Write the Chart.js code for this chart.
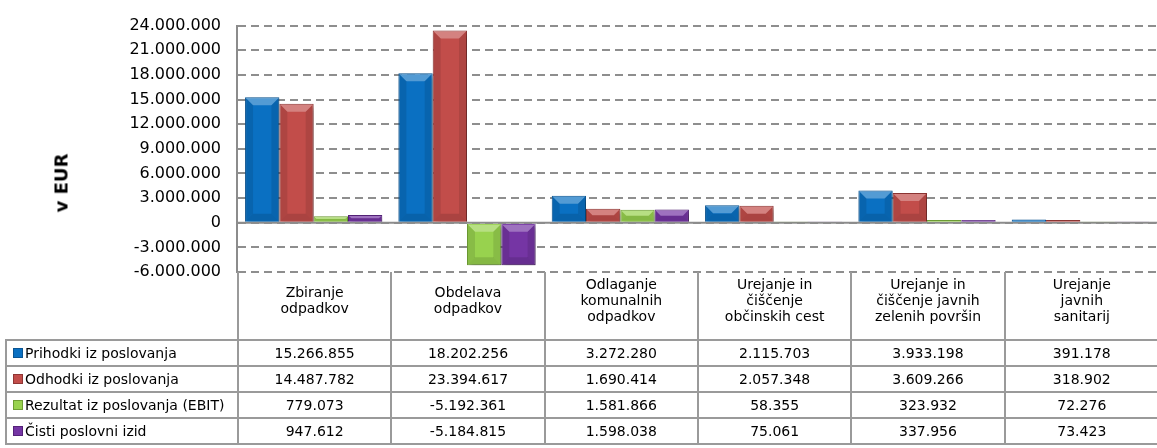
<!DOCTYPE html>
<html><head><meta charset="utf-8">
<script src="https://cdn.jsdelivr.net/npm/chart.js@4.4.0/dist/chart.umd.min.js"></script>
<style>
html,body{margin:0;padding:0;background:#fff;}
#wrap{position:relative;width:1157px;height:448px;overflow:hidden;font-family:'DejaVu Sans',sans-serif;}
#chartBox{position:absolute;left:0;top:0;width:1157px;height:448px;}
#ytitle{position:absolute;left:61px;top:183px;transform:translate(-50%,-50%) rotate(-90deg);font-weight:bold;font-size:18px;white-space:nowrap;color:#000;}
#tbl{position:absolute;border-collapse:collapse;table-layout:fixed;font-size:14px;color:#000;border:none;}
#tbl td{border:2px solid #9a9a9a;text-align:center;padding:0;white-space:nowrap;overflow:hidden;}
#tbl tr.hdr td{border-top:none;vertical-align:middle;line-height:16px;padding-bottom:12px;}
#tbl tr.hdr td.blank{border-left:none;}
#tbl td.lab{text-align:left;padding-left:6px;}
#tbl tr.row td{height:24px;}
#tbl td.last{border-right:none;}
.sw{display:inline-block;width:8px;height:8px;margin-right:2px;vertical-align:0px;border:1px solid;}
</style>
</head><body>
<div id="wrap">
  <div id="chartBox"><canvas id="c"></canvas></div>
  <div id="ytitle">v EUR</div>
  <table id="tbl"></table>
</div>
<script>
// ---- data ----
const categories = [
  ["Zbiranje", "odpadkov"],
  ["Obdelava", "odpadkov"],
  ["Odlaganje", "komunalnih", "odpadkov"],
  ["Urejanje in", "čiščenje", "občinskih cest"],
  ["Urejanje in", "čiščenje javnih", "zelenih površin"],
  ["Urejanje", "javnih", "sanitarij"]
];
const seriesNames = ["Prihodki iz poslovanja", "Odhodki iz poslovanja", "Rezultat iz poslovanja (EBIT)", "Čisti poslovni izid"];
const prihodki = [15266855, 18202256, 3272280, 2115703, 3933198, 391178];
const odhodki  = [14487782, 23394617, 1690414, 2057348, 3609266, 318902];
const ebit     = [779073, -5192361, 1581866, 58355, 323932, 72276];
const cisti    = [947612, -5184815, 1598038, 75061, 337956, 73423];
const yMin = -6000000, yMax = 24000000, yStep = 3000000;

const fills   = ['#0A70C2', '#C24D4A', '#98D24E', '#7535A4'];
const borders = ['#0B5593', '#8F3634', '#6E9E34', '#552279'];
const seriesValues = [prihodki, odhodki, ebit, cisti];

function fmt(v){
  const s = Math.abs(Math.round(v)).toString().replace(/\B(?=(\d{3})+(?!\d))/g, '.');
  return (v < 0 ? '-' : '') + s;
}

Chart.defaults.font.family = "'DejaVu Sans', sans-serif";
Chart.defaults.color = '#000';

const shadowPlugin = {
  id: 'shadow',
  beforeDatasetsDraw(chart){
    const ctx = chart.ctx;
    ctx.save();
    ctx.shadowColor = 'rgba(0,0,0,0.35)';
    ctx.shadowBlur = 5;
    ctx.shadowOffsetX = 2;
    ctx.shadowOffsetY = 3;
  },
  afterDatasetsDraw(chart){
    const ctx = chart.ctx;
    ctx.restore();
    // bevel shading
    chart.data.datasets.forEach((ds, di) => {
      const meta = chart.getDatasetMeta(di);
      meta.data.forEach(bar => {
        const p = bar.getProps(['x','y','base','width'], true);
        const l = p.x - p.width/2 + 1, r = p.x + p.width/2 - 1;
        const t = Math.min(p.y, p.base) + 1, b = Math.max(p.y, p.base) - 1;
        const h = b - t;
        if (h < 3) return;
        const e = Math.min(7, h/2);
        ctx.save();
        ctx.fillStyle = 'rgba(255,255,255,0.30)';
        ctx.beginPath(); ctx.moveTo(l,t); ctx.lineTo(r,t); ctx.lineTo(r-e,t+e); ctx.lineTo(l+e,t+e); ctx.closePath(); ctx.fill();
        ctx.fillStyle = 'rgba(0,0,0,0.10)';
        ctx.beginPath(); ctx.moveTo(l,t); ctx.lineTo(l+e,t+e); ctx.lineTo(l+e,b-e); ctx.lineTo(l,b); ctx.closePath(); ctx.fill();
        ctx.beginPath(); ctx.moveTo(r,t); ctx.lineTo(r-e,t+e); ctx.lineTo(r-e,b-e); ctx.lineTo(r,b); ctx.closePath(); ctx.fill();
        ctx.fillStyle = 'rgba(0,0,0,0.12)';
        ctx.beginPath(); ctx.moveTo(l,b); ctx.lineTo(r,b); ctx.lineTo(r-e,b-e); ctx.lineTo(l+e,b-e); ctx.closePath(); ctx.fill();
        ctx.restore();
      });
    });
  }
};

const zeroLinePlugin = {
  id: 'zeroLine',
  beforeDatasetsDraw(chart){
    const y = chart.scales.y.getPixelForValue(0);
    const a = chart.chartArea;
    const ctx = chart.ctx;
    ctx.save();
    ctx.strokeStyle = '#8c8c8c';
    ctx.lineWidth = 2;
    ctx.beginPath(); ctx.moveTo(a.left, y); ctx.lineTo(a.right, y); ctx.stroke();
    ctx.restore();
  }
};

const chart = new Chart(document.getElementById('c'), {
  type: 'bar',
  data: {
    labels: categories,
    datasets: seriesNames.map((n, i) => ({
      label: n,
      data: seriesValues[i],
      backgroundColor: fills[i],
      borderColor: borders[i],
      borderWidth: 1,
      categoryPercentage: 0.895,
      barPercentage: 1.0
    }))
  },
  options: {
    responsive: true,
    maintainAspectRatio: false,
    animation: false,
    layout: { padding: { top: 22, right: 0, bottom: 176, left: 0 } },
    plugins: { legend: { display: false }, tooltip: { enabled: false } },
    scales: {
      x: { display: false },
      y: {
        min: yMin, max: yMax,
        afterFit(scale){ scale.width = 237; },
        ticks: { stepSize: yStep, padding: 16, font: { size: 16 }, color: '#000', callback: v => fmt(v) },
        grid: { color: '#8e8e8e', lineWidth: 2, drawTicks: false },
        border: { display: true, color: '#8c8c8c', width: 2, dash: [8, 5] }
      }
    }
  },
  plugins: [zeroLinePlugin, shadowPlugin]
});

// ---- data table aligned with the chart area ----
(function buildTable(){
  const a = chart.chartArea;
  const tbl = document.getElementById('tbl');
  const left = 5;
  const colW = (a.right - a.left) / categories.length;
  tbl.style.left = left + 'px';
  tbl.style.top = (a.bottom) + 'px';
  tbl.style.width = (a.right - left) + 'px';
  let html = '<colgroup><col style="width:' + (a.left - left) + 'px">';
  categories.forEach(() => { html += '<col style="width:' + colW + 'px">'; });
  html += '</colgroup>';
  html += '<tr class="hdr" style="height:68px"><td class="blank"></td>';
  categories.forEach((c, j) => { html += '<td' + (j === categories.length - 1 ? ' class="last"' : '') + '>' + c.join('<br>') + '</td>'; });
  html += '</tr>';
  seriesNames.forEach((n, i) => {
    html += '<tr class="row"><td class="lab"><span class="sw" style="background:' + fills[i] + ';border-color:' + borders[i] + '"></span>' + n + '</td>';
    seriesValues[i].forEach((v, j) => { html += '<td' + (j === categories.length - 1 ? ' class="last"' : '') + '>' + fmt(v) + '</td>'; });
    html += '</tr>';
  });
  tbl.innerHTML = html;
})();
</script>
</body></html>
